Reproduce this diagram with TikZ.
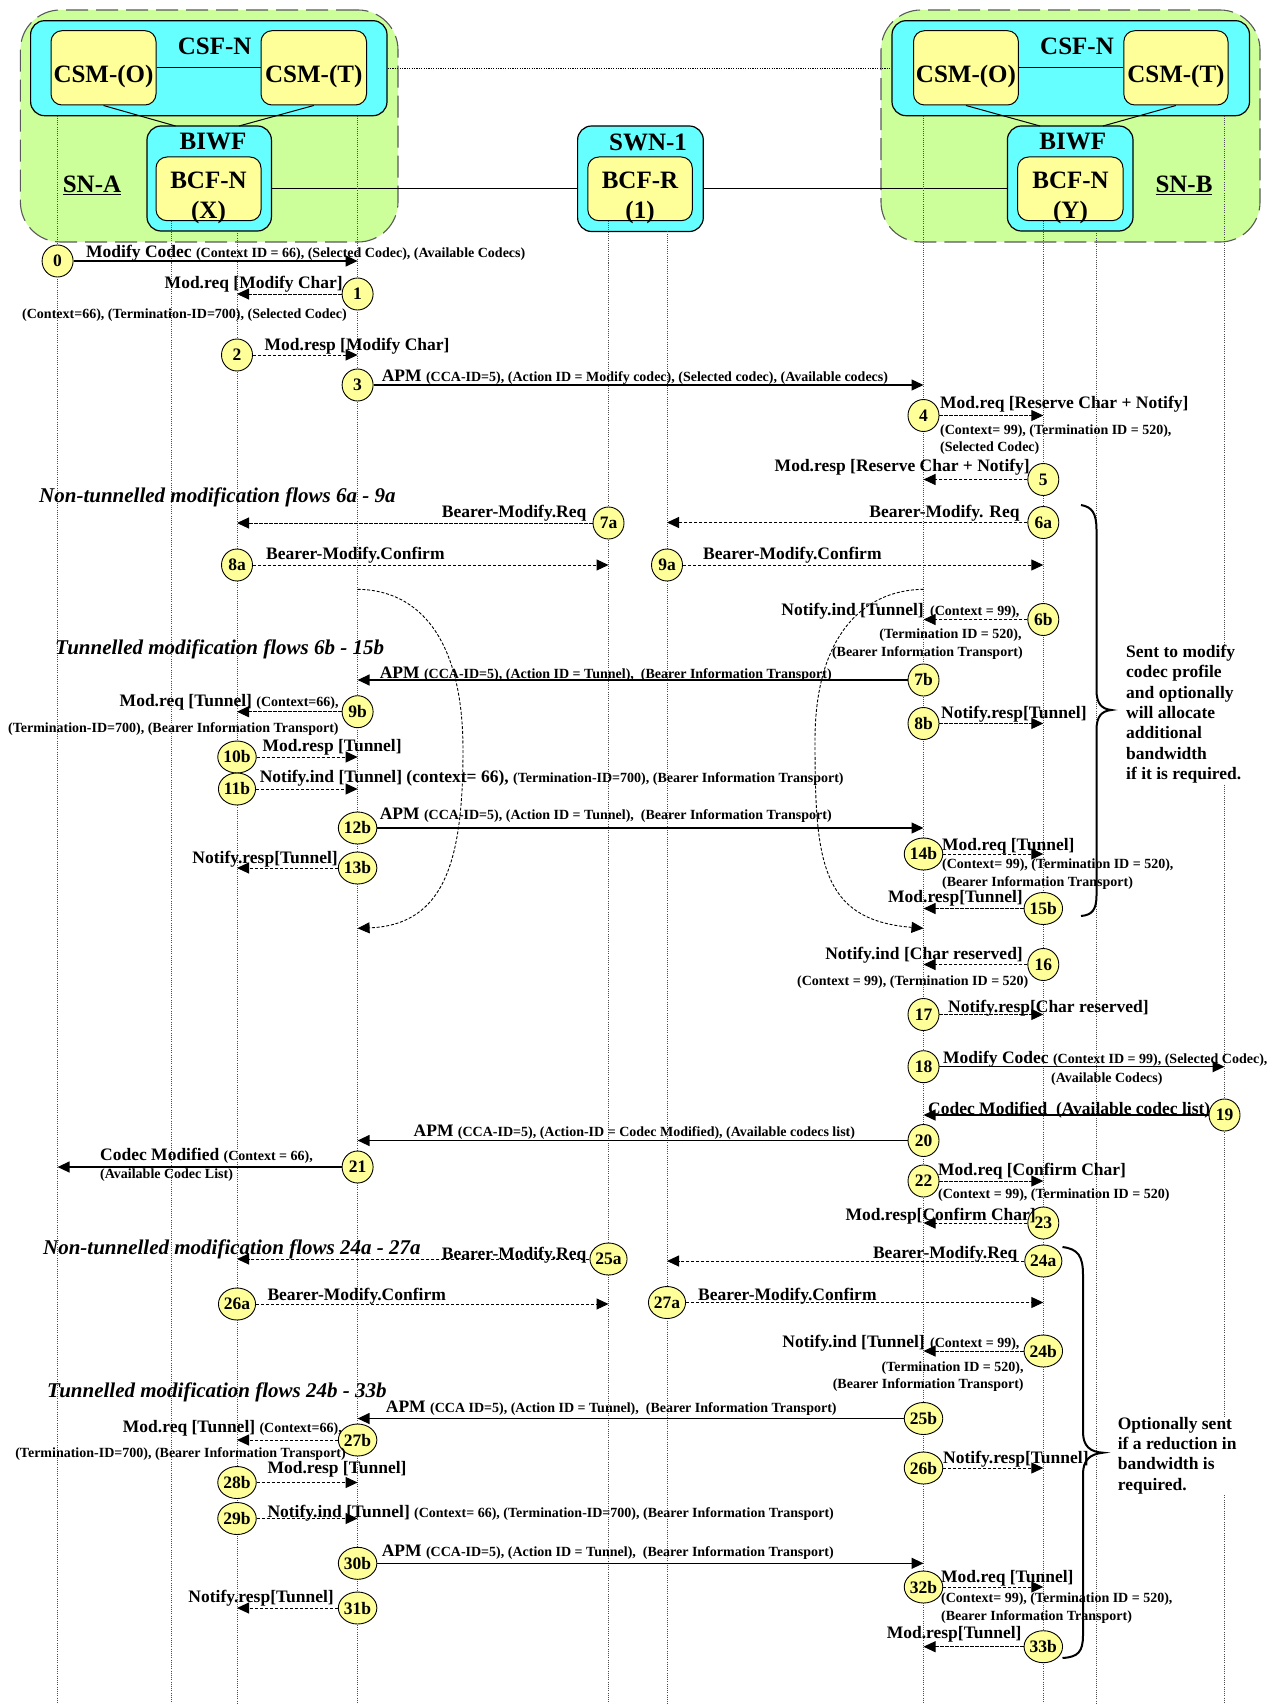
\documentclass[tikz,border=0pt]{standalone}
\usepackage{fontspec}
\setmainfont{Liberation Serif}
\usetikzlibrary{arrows.meta,shapes.geometric}
\definecolor{sngreen}{HTML}{CCFF99}
\definecolor{boxcyan}{HTML}{66FFFF}
\definecolor{boxyellow}{HTML}{FFFF99}
\newcommand\myL{\fontsize{17.5}{20.3}\selectfont\bfseries}
\newcommand\myS{\fontsize{14}{16}\selectfont\bfseries}
\newcommand\myH{\fontsize{21}{24}\selectfont\bfseries\itshape}
\newcommand\myN{\fontsize{17.5}{18}\selectfont\bfseries}
\newcommand\myB{\fontsize{25}{30}\selectfont\bfseries}
\def\lxA{57.6}\def\lxB{171.5}\def\lxC{237}\def\lxD{357.6}\def\lxE{608.5}
\def\lxF{667}\def\lxG{923.5}\def\lxH{1043.3}\def\lxI{1096.5}\def\lxJ{1224.5}
\newcommand\msg[6]{%
  \node[num] (n#1) at (#2,#3) {#4};
  \coordinate (e#1) at (#5,#3);
  \draw[#6] (n#1) -- (e#1);}
\begin{document}
\begin{tikzpicture}[x=1pt,y=-1pt,
  life/.style={line width=0.8pt, black!70, dash pattern=on 1pt off 1.2pt},
  snbox/.style={draw=black!65, fill=sngreen, line width=1.1pt, dash pattern=on 22pt off 8pt, rounded corners=40pt},
  cbox/.style={draw, fill=boxcyan, line width=1.2pt, rounded corners=14pt},
  ybox/.style={draw, fill=boxyellow, line width=1pt, rounded corners=11pt},
  btxt/.style={inner sep=0pt, font=\myB, align=center},
  num/.style={ellipse, draw, fill=boxyellow, line width=0.9pt, minimum width=31pt, minimum height=32pt, inner sep=0pt, font=\myN},
  sol/.style={line width=1.3pt, -{Triangle[length=12pt,width=11pt]}},
  dsh/.style={line width=1pt, dash pattern=on 3.2pt off 1.8pt, -{Triangle[length=12pt,width=11pt]}},
  cdsh/.style={line width=0.9pt, dash pattern=on 3pt off 1.8pt, -{Triangle[length=12pt,width=11pt]}},
  lab/.style={inner sep=0pt, font=\myL, text height=0.72em, text depth=0.22em, yshift=-3pt},
  sml/.style={inner sep=0pt, font=\myS, text height=0.72em, text depth=0.22em, yshift=-3pt},
  hdr/.style={inner sep=0pt, font=\myH, yshift=-1pt},
  note/.style={inner sep=0pt, font=\myL, align=left, anchor=north west, fill=white},
  brace/.style={line width=2pt},
  conn/.style={line width=1pt}
]
\useasboundingbox (0,0) rectangle (1276,1704);

% ---------- entity boxes ----------
\node[snbox, minimum width=377.6pt, minimum height=232pt] (snA) at (209.2,126) {};
\node[snbox, minimum width=379pt, minimum height=232pt] (snB) at (1070.5,126) {};
\node[cbox, minimum width=356.4pt, minimum height=95pt] (csfA) at (208.8,68.2) {};
\node[cbox, minimum width=357.5pt, minimum height=95pt] (csfB) at (1070.75,68.2) {};
\node[cbox, minimum width=124.4pt, minimum height=105pt] (biwfA) at (209.2,178.5) {};
\node[cbox, minimum width=125.6pt, minimum height=105pt] (biwfB) at (1070.2,178.5) {};
\node[cbox, minimum width=125.7pt, minimum height=105.5pt] (swn) at (640.45,178.75) {};
\node[ybox, minimum width=105pt, minimum height=74.3pt] (csmOA) at (103.5,67.85) {};
\node[ybox, minimum width=105.5pt, minimum height=74.3pt] (csmTA) at (313.75,67.85) {};
\node[ybox, minimum width=104.9pt, minimum height=74.3pt] (csmOB) at (965.95,67.85) {};
\node[ybox, minimum width=104.2pt, minimum height=74.3pt] (csmTB) at (1175.9,67.85) {};
\node[ybox, minimum width=105pt, minimum height=63.7pt] (bcfX) at (208.5,188.85) {};
\node[ybox, minimum width=104.5pt, minimum height=63.7pt] (bcfR) at (640.05,188.85) {};
\node[ybox, minimum width=105.4pt, minimum height=63.7pt] (bcfY) at (1070.3,188.85) {};

\coordinate (bwA1) at (175.5,126);
\coordinate (bwA2) at (239,126);
\coordinate (bwB1) at (1040,126);
\coordinate (bwB2) at (1103,126);
\draw[conn] (csmOA) -- (csmTA);
\draw[conn] (csmOB) -- (csmTB);
\draw[conn] (csmOA.south) -- (bwA1);
\draw[conn] (csmTA.south) -- (bwA2);
\draw[conn] (csmOB.south) -- (bwB1);
\draw[conn] (csmTB.south) -- (bwB2);
\draw[line width=0.8pt, dash pattern=on 1.2pt off 1.2pt] (csfA.east) -- (csfB.west);
\draw[conn] (bcfX.east -| biwfA.east) -- (bcfX.east -| swn.west);
\draw[conn] (bcfR.east -| swn.east) -- (bcfR.east -| biwfB.west);

\node[btxt] (tcsfA) at (214.7,46.7) {CSF-N};
\node[btxt] (tcsfB) at (1077,46.7) {CSF-N};
\node[btxt] (tcsmOA) at (103.5,76) {CSM-(O)};
\node[btxt] (tcsmTA) at (313.75,76) {CSM-(T)};
\node[btxt] (tcsmOB) at (965.95,76) {CSM-(O)};
\node[btxt] (tcsmTB) at (1175.9,76) {CSM-(T)};
\node[btxt] (tbiwfA) at (213,142) {BIWF};
\node[btxt] (tbiwfB) at (1072.7,142) {BIWF};
\node[btxt] (tswn) at (648,142) {SWN-1};
\node[btxt] (tbcfX) at (208.5,198) {BCF-N\\(X)};
\node[btxt] (tbcfR) at (640,198) {BCF-R\\(1)};
\node[btxt] (tbcfY) at (1070.5,198) {BCF-N\\(Y)};
\node[btxt] (tsnA) at (92,185) {\underline{SN-A}};
\node[btxt] (tsnB) at (1184,185) {\underline{SN-B}};

% ---------- lifelines ----------
\foreach \nm/\xx/\yy in {A/\lxA/115.7, B/\lxB/220.7, C/\lxC/231, D/\lxD/115.7, E/\lxE/220.7,
                         F/\lxF/231.5, G/\lxG/115.7, H/\lxH/220.7, I/\lxI/231, J/\lxJ/115.7}{
  \coordinate (top\nm) at (\xx,\yy);
  \coordinate (bot\nm) at (\xx,1704);
  \draw[life] (top\nm) -- (bot\nm);
}

% ---------- curved tunnel arrows ----------
\coordinate (cl1) at (\lxD,589.3);
\coordinate (cl2) at (\lxD,928.3);
\draw[cdsh] (cl1) .. controls (420,590) and (463,640) .. (463,750) .. controls (463,860) and (445,925) .. (cl2);
\coordinate (cr1) at (\lxG,589.3);
\coordinate (cr2) at (\lxG,928.3);
\draw[cdsh] (cr1) .. controls (860,590) and (815,640) .. (815,740) .. controls (815,860) and (820,920) .. (cr2);

% ---------- braces ----------
\draw[brace] (1081,505) .. controls (1092,507) and (1096.5,513) .. (1096.5,530) -- (1096.5,690)
   .. controls (1096.5,703) and (1101,709) .. (1111.5,710) .. controls (1101,711) and (1096.5,717) .. (1096.5,730)
   -- (1096.5,895) .. controls (1096.5,910) and (1092,915) .. (1081,916);
\draw[brace] (1062.5,1247) .. controls (1078,1249) and (1083,1256) .. (1083,1275) -- (1083,1432)
   .. controls (1083,1446) and (1090,1452) .. (1103,1452.7) .. controls (1090,1454) and (1083,1460) .. (1083,1474)
   -- (1083,1635) .. controls (1083,1652) and (1078,1657) .. (1062.5,1658);
\node[note] (note1) at (1126,645)
  {Sent to modify\\codec profile\\and optionally\\will allocate\\additional\\bandwidth\\if it is required.};
\node[note] (note2) at (1117.6,1417)
  {Optionally sent\\if a reduction in\\bandwidth is\\required.};

% ---------- messages ----------
\msg{0}{\lxA}{261}{0}{\lxD}{sol}
\msg{1}{\lxD}{294}{1}{\lxC}{dsh}
\msg{2}{\lxC}{355}{2}{\lxD}{dsh}
\msg{3}{\lxD}{385}{3}{\lxG}{sol}
\msg{4}{\lxG}{415.5}{4}{\lxH}{dsh}
\msg{5}{\lxH}{479.5}{5}{\lxG}{dsh}
\msg{6a}{\lxH}{522.5}{6a}{\lxF}{dsh}
\msg{7a}{\lxE}{523}{7a}{\lxC}{dsh}
\msg{8a}{\lxC}{565}{8a}{\lxE}{dsh}
\msg{9a}{\lxF}{565}{9a}{\lxH}{dsh}
\msg{6b}{\lxH}{619.5}{6b}{\lxG}{dsh}
\msg{7b}{\lxG}{680}{7b}{\lxD}{sol}
\msg{8b}{\lxG}{723.5}{8b}{\lxH}{dsh}
\msg{9b}{\lxD}{711.7}{9b}{\lxC}{dsh}
\msg{10b}{\lxC}{757}{10b}{\lxD}{dsh}
\msg{11b}{\lxC}{789}{11b}{\lxD}{dsh}
\msg{12b}{\lxD}{828}{12b}{\lxG}{sol}
\msg{13b}{\lxD}{868}{13b}{\lxC}{dsh}
\msg{14b}{\lxG}{854}{14b}{\lxH}{dsh}
\msg{15b}{\lxH}{908.5}{15b}{\lxG}{dsh}
\msg{16}{\lxH}{964.5}{16}{\lxG}{dsh}
\msg{17}{\lxG}{1014.5}{17}{\lxH}{dsh}
\msg{18}{\lxG}{1066.7}{18}{\lxJ}{sol}
\msg{19}{\lxJ}{1115}{19}{\lxG}{sol}
\msg{20}{\lxG}{1140.5}{20}{\lxD}{sol}
\msg{21}{\lxD}{1167}{21}{\lxA}{sol}
\msg{22}{\lxG}{1181}{22}{\lxH}{dsh}
\msg{23}{\lxH}{1223}{23}{\lxG}{dsh}
\msg{24a}{\lxH}{1261}{24a}{\lxF}{dsh}
\msg{25a}{\lxE}{1259}{25a}{\lxC}{dsh}
\msg{26a}{\lxC}{1304}{26a}{\lxE}{dsh}
\msg{27a}{\lxF}{1302.5}{27a}{\lxH}{dsh}
\msg{24b}{\lxH}{1351}{24b}{\lxG}{dsh}
\msg{25b}{\lxG}{1418.5}{25b}{\lxD}{sol}
\msg{26b}{\lxG}{1468}{26b}{\lxH}{dsh}
\msg{27b}{\lxD}{1440}{27b}{\lxC}{dsh}
\msg{28b}{\lxC}{1482.5}{28b}{\lxD}{dsh}
\msg{29b}{\lxC}{1518.5}{29b}{\lxD}{dsh}
\msg{30b}{\lxD}{1563.3}{30b}{\lxG}{sol}
\msg{31b}{\lxD}{1608}{31b}{\lxC}{dsh}
\msg{32b}{\lxG}{1587}{32b}{\lxH}{dsh}
\msg{33b}{\lxH}{1646.7}{33b}{\lxG}{dsh}

% ---------- labels ----------
\node[lab, anchor=west] (t0) at (86,252) {Modify Codec {\myS (Context ID = 66), (Selected Codec), (Available Codecs)}};
\node[lab, anchor=east] (t1) at (343,283) {Mod.req [Modify Char]};
\node[sml] (t1b) at (184.5,313) {(Context=66), (Termination-ID=700), (Selected Codec)};
\node[lab, anchor=west] (t2) at (264.5,345) {Mod.resp [Modify Char]};
\node[lab, anchor=west] (t3) at (381.6,376) {APM {\myS (CCA-ID=5), (Action ID = Modify codec), (Selected codec), (Available codecs)}};
\node[lab, anchor=west] (t4) at (940,402.7) {Mod.req [Reserve Char + Notify]};
\node[sml, anchor=west] (t4b) at (940,429) {(Context= 99), (Termination ID = 520),};
\node[sml, anchor=west] (t4c) at (940,445.7) {(Selected Codec)};
\node[lab, anchor=east] (t5) at (1030,465.7) {Mod.resp [Reserve Char + Notify]};
\node[hdr, anchor=west] (h1) at (39,496) {Non-tunnelled modification flows 6a - 9a};
\node[lab, anchor=east] (t6a) at (1019.7,511.7) {Bearer-Modify. Req};
\node[lab, anchor=east] (t7a) at (586.5,511.7) {Bearer-Modify.Req};
\node[lab, anchor=west] (t8a) at (266,554.3) {Bearer-Modify.Confirm};
\node[lab, anchor=west] (t9a) at (703,554.3) {Bearer-Modify.Confirm};
\node[lab, anchor=east] (t6b) at (924,610) {Notify.ind [Tunnel]};
\node[sml, anchor=west] (t6bb) at (930,610) {(Context = 99),};
\node[sml, anchor=east] (t6bc) at (1021.7,633.3) {(Termination ID = 520),};
\node[sml, anchor=east] (t6bd) at (1023,650.7) {(Bearer Information Transport)};
\node[hdr, anchor=west] (h2) at (55,648.3) {Tunnelled modification flows 6b - 15b};
\node[lab, anchor=west] (t7b) at (379.6,673.3) {APM {\myS (CCA-ID=5), (Action ID = Tunnel),\ \ (Bearer Information Transport)}};
\node[lab, anchor=west] (t8b) at (941,713.3) {Notify.resp[Tunnel]};
\node[lab, anchor=east] (t9b) at (338.8,700.7) {Mod.req [Tunnel] {\myS (Context=66),}};
\node[sml, anchor=east] (t9bb) at (338.8,726.7) {(Termination-ID=700), (Bearer Information Transport)};
\node[lab, anchor=west] (t10b) at (262.4,745.7) {Mod.resp [Tunnel]};
\node[lab, anchor=west] (t11b) at (259.6,777.3) {Notify.ind [Tunnel] (context= 66), {\myS (Termination-ID=700), (Bearer Information Transport)}};
\node[lab, anchor=west] (t12b) at (379.6,814) {APM {\myS (CCA-ID=5), (Action ID = Tunnel),\ \ (Bearer Information Transport)}};
\node[lab, anchor=east] (t13b) at (338,858.3) {Notify.resp[Tunnel]};
\node[lab, anchor=west] (t14b) at (942,845) {Mod.req [Tunnel]};
\node[sml, anchor=west] (t14bb) at (942,862.7) {(Context= 99), (Termination ID = 520),};
\node[sml, anchor=west] (t14bc) at (942,880.7) {(Bearer Information Transport)};
\node[lab, anchor=east] (t15b) at (1023,897.3) {Mod.resp[Tunnel]};
\node[lab, anchor=east] (t16) at (1023,954) {Notify.ind [Char reserved]};
\node[sml, anchor=east] (t16b) at (1028.6,980) {(Context = 99), (Termination ID = 520)};
\node[lab, anchor=west] (t17) at (948,1006.7) {Notify.resp[Char reserved]};
\node[lab, anchor=west] (t18) at (943,1058.3) {Modify Codec {\myS (Context ID = 99), (Selected Codec),}};
\node[sml, anchor=west] (t18b) at (1051,1076.7) {(Available Codecs)};
\node[lab, anchor=west] (t19) at (928,1109.3) {Codec Modified\ \ (Available codec list)};
\node[lab, anchor=west] (t20) at (413.5,1130.7) {APM {\myS (CCA-ID=5), (Action-ID = Codec Modified), (Available codecs list)}};
\node[lab, anchor=west] (t21) at (100,1155) {Codec Modified {\myS (Context = 66),}};
\node[sml, anchor=west] (t21b) at (100,1173.3) {(Available Codec List)};
\node[lab, anchor=west] (t22) at (938,1170) {Mod.req [Confirm Char]};
\node[sml, anchor=west] (t22b) at (938,1193.3) {(Context = 99), (Termination ID = 520)};
\node[lab, anchor=east] (t23) at (1036,1215) {Mod.resp[Confirm Char]};
\node[hdr, anchor=west] (h3) at (42.9,1248.3) {Non-tunnelled modification flows 24a - 27a};
\node[lab, anchor=east] (t24a) at (1017.6,1253.3) {Bearer-Modify.Req};
\node[lab, anchor=east] (t25a) at (586.5,1254) {Bearer-Modify.Req};
\node[lab, anchor=west] (t26a) at (267.3,1295) {Bearer-Modify.Confirm};
\node[lab, anchor=west] (t27a) at (698,1295) {Bearer-Modify.Confirm};
\node[lab, anchor=east] (t24b) at (925,1342.3) {Notify.ind [Tunnel]};
\node[sml, anchor=west] (t24bb) at (930,1342.3) {(Context = 99),};
\node[sml, anchor=east] (t24bc) at (1023.8,1365.7) {(Termination ID = 520),};
\node[sml, anchor=east] (t24bd) at (1023.8,1382.7) {(Bearer Information Transport)};
\node[hdr, anchor=west] (h4) at (47,1391.7) {Tunnelled modification flows 24b - 33b};
\node[lab, anchor=west] (t25b) at (385.7,1406.7) {APM {\myS (CCA ID=5), (Action ID = Tunnel),\ \ (Bearer Information Transport)}};
\node[lab, anchor=west] (t26b) at (943,1458.3) {Notify.resp[Tunnel]};
\node[lab, anchor=east] (t27b) at (342,1427.3) {Mod.req [Tunnel] {\myS (Context=66),}};
\node[sml, anchor=east] (t27bb) at (346,1451.7) {(Termination-ID=700), (Bearer Information Transport)};
\node[lab, anchor=west] (t28b) at (267.3,1468.3) {Mod.resp [Tunnel]};
\node[lab, anchor=west] (t29b) at (267.3,1511.7) {Notify.ind [Tunnel] {\myS (Context= 66), (Termination-ID=700), (Bearer Information Transport)}};
\node[lab, anchor=west] (t30b) at (381.6,1550.7) {APM {\myS (CCA-ID=5), (Action ID = Tunnel),\ \ (Bearer Information Transport)}};
\node[lab, anchor=east] (t31b) at (334,1596.7) {Notify.resp[Tunnel]};
\node[lab, anchor=west] (t32b) at (941,1576.7) {Mod.req [Tunnel]};
\node[sml, anchor=west] (t32bb) at (941,1597.3) {(Context= 99), (Termination ID = 520),};
\node[sml, anchor=west] (t32bc) at (941,1615) {(Bearer Information Transport)};
\node[lab, anchor=east] (t33b) at (1021.7,1633.3) {Mod.resp[Tunnel]};
\end{tikzpicture}
\end{document}
